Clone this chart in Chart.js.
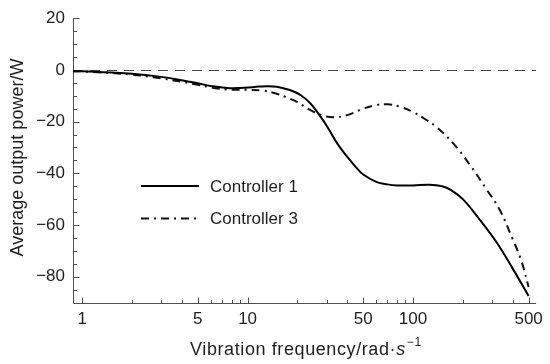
<!DOCTYPE html>
<html><head><meta charset="utf-8">
<script src="https://cdn.jsdelivr.net/npm/chart.js@4/dist/chart.umd.min.js"></script>
<style>html,body{margin:0;padding:0;background:#fff}#wrap{width:550px;height:364px}</style>
</head><body><div id="wrap"><canvas id="c" width="550" height="364"></canvas></div>
<script>
// ---- data ----
const seriesNames = ['Controller 1', 'Controller 3'];
const freq1 = [0.88, 1, 1.5, 2, 3, 4, 5, 6, 7.5, 9, 11, 13, 15, 18, 21, 24, 27, 30, 33, 36, 40, 45, 50, 60, 70, 80, 100, 126, 150, 170, 200, 250, 320, 400, 500];
const power1 = [-0.5, -0.5, -1.0, -1.5, -2.7, -4.0, -5.2, -6.2, -7.0, -7.0, -6.6, -6.3, -6.5, -7.8, -9.8, -13, -17.2, -21.5, -26, -29.8, -33.6, -37.5, -40.5, -43.3, -44.3, -44.7, -44.7, -44.4, -45, -46.5, -50, -57.5, -66.7, -76.8, -87.5];
const freq3 = [0.88, 1, 2, 3, 4, 5, 6, 7.5, 10, 12.4, 15, 17, 20, 24, 28, 33, 40, 50, 60, 70, 83, 100, 120, 138, 175, 220, 278, 333, 400, 450, 500];
const power3 = [-0.5, -0.6, -1.8, -3.3, -4.6, -5.8, -6.8, -7.6, -7.7, -8.0, -9.2, -10.5, -12.5, -15.6, -17.5, -18.3, -17.5, -15, -13.6, -13.3, -14.2, -16.3, -19.3, -22, -28.4, -36.6, -46.2, -53.9, -65.4, -73.5, -84];
const xTickLabels = [1, 5, 10, 50, 100, 500];
const yTickLabels = [-80, -60, -40, -20, 0, 20];
const xTitleMain = 'Vibration frequency/rad\u00B7';
const xTitleItalic = 's';
const xTitleSup = '\u22121';
const yTitle = 'Average output power/W';

const FONT = '"Liberation Sans", Arial, Helvetica, sans-serif';
const TXT = '#1e1e1e';
const AX = '#505050';
const dashes = [[], [8, 5, 2, 5]];

const decoPlugin = {
  id: 'deco',
  beforeDatasetsDraw(chart) {
    const { ctx, chartArea: a, scales: { x, y } } = chart;
    ctx.save();
    const y0 = Math.round(y.getPixelForValue(0)) + 0.5;
    ctx.strokeStyle = '#444'; ctx.lineWidth = 1; ctx.setLineDash([10, 7]);
    ctx.beginPath(); ctx.moveTo(a.left, y0); ctx.lineTo(a.right, y0); ctx.stroke();
    ctx.setLineDash([]);
    ctx.strokeStyle = AX; ctx.lineWidth = 1;
    const L = Math.round(a.left) + 0.5, B = Math.round(a.bottom) + 0.5;
    ctx.beginPath(); ctx.moveTo(L, a.top); ctx.lineTo(L, B); ctx.lineTo(a.right, B); ctx.stroke();
    ctx.beginPath();
    for (let v = -85; v <= 20; v += 5) {
      const p = Math.round(y.getPixelForValue(v)) + 0.5;
      const len = (v % 20 === 0) ? 6 : 3.5;
      ctx.moveTo(L, p); ctx.lineTo(L + len, p);
    }
    for (const d of [1, 10, 100]) {
      for (let m = 1; m <= 9; m++) {
        const v = m * d;
        if (v < x.min || v > x.max) continue;
        const p = Math.round(x.getPixelForValue(v)) + 0.5;
        const len = (m === 1 || m === 5) ? 6 : 3.5;
        ctx.moveTo(p, B); ctx.lineTo(p, B - len);
      }
    }
    ctx.stroke();
    ctx.restore();
  },
  afterDraw(chart) {
    const { ctx } = chart;
    ctx.save();
    ctx.fillStyle = TXT;
    ctx.font = '17px ' + FONT;
    ctx.textBaseline = 'middle';
    const ly = [186, 218.5];
    chart.data.datasets.forEach((ds, i) => {
      ctx.strokeStyle = ds.borderColor; ctx.lineWidth = 2; ctx.setLineDash(dashes[i]);
      ctx.beginPath(); ctx.moveTo(141, ly[i]); ctx.lineTo(199, ly[i]); ctx.stroke();
      ctx.setLineDash([]);
      ctx.textAlign = 'left';
      ctx.fillText(ds.label, 210, ly[i] + 1);
    });
    ctx.textBaseline = 'alphabetic';
    ctx.letterSpacing = '0.6px';
    const fMain = '18px ' + FONT, fIt = 'italic 18px ' + FONT, fSup = '12px ' + FONT;
    ctx.font = fMain; const w1 = ctx.measureText(xTitleMain).width;
    ctx.font = fIt; const w2 = ctx.measureText(xTitleItalic).width;
    ctx.font = fSup; const w3 = ctx.measureText(xTitleSup).width;
    let sx = 190;
    ctx.textAlign = 'left';
    ctx.font = fMain; ctx.fillText(xTitleMain, sx, 355); sx += w1;
    ctx.font = fIt; ctx.fillText(xTitleItalic, sx, 355); sx += w2 + 1;
    ctx.font = fSup; ctx.fillText(xTitleSup, sx, 345.5);
    ctx.letterSpacing = '0px';
    ctx.font = fMain;
    ctx.translate(23, 157.5);
    ctx.rotate(-Math.PI / 2);
    ctx.textAlign = 'center';
    ctx.fillText(yTitle, 0, 0);
    ctx.restore();
  }
};

new Chart(document.getElementById('c'), {
  type: 'line',
  data: {
    datasets: [
      { label: seriesNames[0], data: freq1.map((f, i) => ({ x: f, y: power1[i] })),
        borderColor: '#000', borderWidth: 2, borderDash: dashes[0], pointRadius: 0, tension: 0.4, fill: false },
      { label: seriesNames[1], data: freq3.map((f, i) => ({ x: f, y: power3[i] })),
        borderColor: '#111', borderWidth: 2, borderDash: dashes[1], pointRadius: 0, tension: 0.4, fill: false }
    ]
  },
  options: {
    responsive: false, animation: false, devicePixelRatio: 1,
    layout: { padding: { top: 17, right: 13, left: 0, bottom: 0 } },
    plugins: { legend: { display: false }, tooltip: { enabled: false } },
    scales: {
      x: {
        type: 'logarithmic', min: 0.88, max: 555,
        grid: { display: false, drawTicks: false }, border: { display: false },
        afterBuildTicks: s => { s.ticks = xTickLabels.map(v => ({ value: v, major: true })); },
        afterFit: s => { s.height = 61.5; },
        ticks: { color: TXT, font: { size: 17, family: FONT }, padding: 7, autoSkip: false, maxRotation: 0,
          callback: v => String(v) }
      },
      y: {
        type: 'linear', min: -90, max: 20,
        grid: { display: false, drawTicks: false }, border: { display: false },
        afterBuildTicks: s => { s.ticks = yTickLabels.map(v => ({ value: v })); },
        afterFit: s => { s.width = 73; },
        ticks: { color: TXT, font: { size: 17, family: FONT }, padding: 8,
          callback: v => (v < 0 ? '\u2212' + Math.abs(v) : String(v)) }
      }
    }
  },
  plugins: [decoPlugin]
});
</script></body></html>
